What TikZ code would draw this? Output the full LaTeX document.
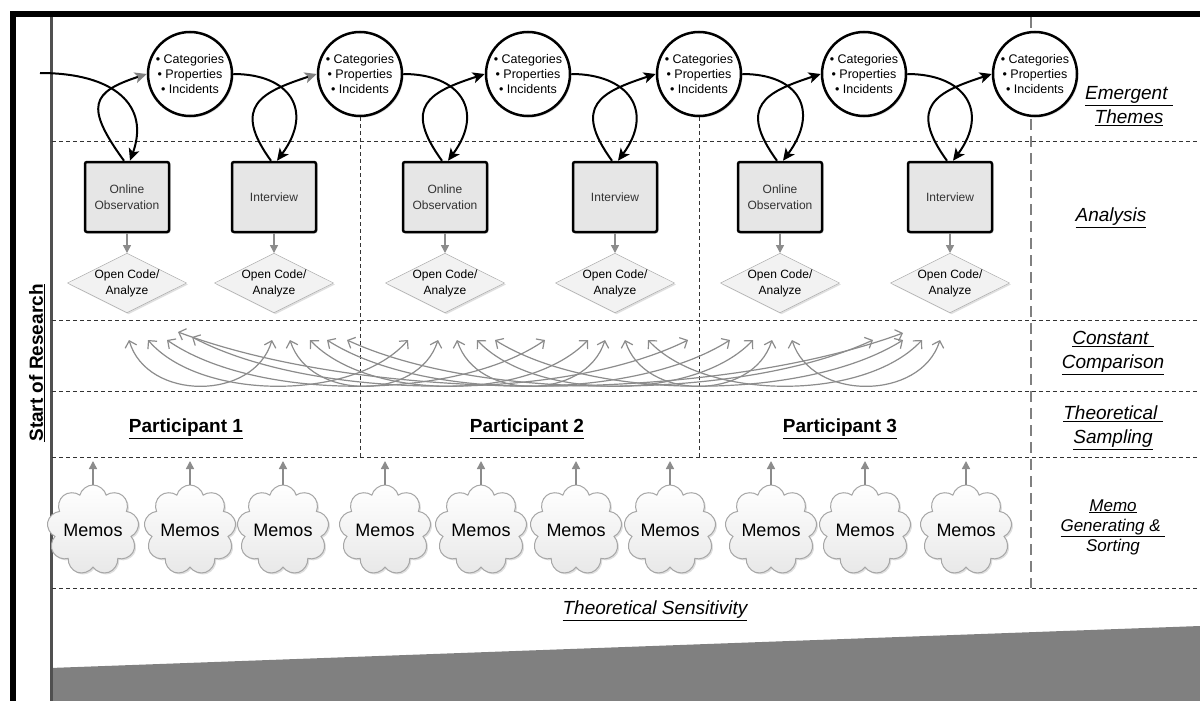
\documentclass[tikz,border=0pt]{standalone}
\usepackage{fontspec}
\setmainfont{Liberation Sans}
\usetikzlibrary{positioning,arrows.meta,shapes.geometric,shapes.symbols,shadows}

\definecolor{framegray}{HTML}{505050}
\definecolor{boxfill}{HTML}{E6E6E6}
\definecolor{arcgray}{HTML}{8C8C8C}
\definecolor{bandgray}{HTML}{808080}

\tikzset{
  softshadow/.style={drop shadow={shadow xshift=1.5pt,shadow yshift=-1.5pt,opacity=.25}},
  theme/.style={circle,draw,line width=2.5pt,fill=white,minimum size=84pt,inner sep=0pt,
    align=center,font=\fontsize{12.5}{15}\selectfont,softshadow},
  datasrc/.style={rectangle,draw,line width=2.5pt,fill=boxfill,rounded corners=2pt,
    minimum width=84pt,minimum height=70pt,align=center,text=black!80,
    font=\fontsize{12}{16}\selectfont,softshadow},
  opencode/.style={diamond,draw=gray!70,fill=gray!10,aspect=2,inner sep=0pt,
    minimum width=119pt,minimum height=59pt,align=center,
    font=\fontsize{12}{16}\selectfont,softshadow},
  memo/.style={cloud,cloud puffs=9,cloud ignores aspect,draw=gray!70,line width=1pt,
    top color=white,bottom color=gray!18,minimum width=92pt,minimum height=90pt,
    inner sep=0pt,font=\fontsize{18}{20}\selectfont,softshadow},
  phase/.style={align=center,font=\itshape\fontsize{19}{24}\selectfont},
  partlabel/.style={font=\bfseries\fontsize{19}{22}\selectfont},
  band/.style={line width=1pt,black!80,dash pattern=on 4pt off 3pt},
  loopin/.style={line width=2pt,-{Stealth[length=12pt,width=11pt,inset=3pt]}},
  loopout/.style={line width=2pt,-{Stealth[length=12pt,width=11pt,inset=3pt,color=#1]}},
  feed/.style={arcgray,line width=1.5pt,-{Triangle[length=8pt,width=8pt]}},
  compare/.style={arcgray,line width=1.2pt,
    {Straight Barb[length=6pt,width=12pt]}-{Straight Barb[length=6pt,width=12pt]}}
}

\begin{document}
\begin{tikzpicture}[x=1pt,y=-1pt]
  \useasboundingbox (0,0) rectangle (1200,701);
  \fill[white] (0,0) rectangle (1200,701);

  % lower grey band
  \fill[bandgray] (50,668) -- (1200,626) -- (1200,701) -- (50,701) -- cycle;

  % frame
  \draw[line width=6pt,miter limit=10] (13,701) -- (13,14) -- (1200,14);
  \draw[framegray,line width=3pt] (51,17) -- (51,701);

  % rows
  \foreach \y in {141,320,391,457,588}
    \draw[band] (52,\y) -- (1200,\y);
  \draw[gray,line width=1.2pt,dash pattern=on 11pt off 6pt] (1031,17) -- (1031,588);

  \coordinate (entry) at (40,73);
  \coordinate (samptop) at (0,461);
  \coordinate (sampbot) at (0,457);

  % emergent themes
  \foreach \n/\x in {1/190,2/360,3/528,4/699,5/864,6/1035}
    \node[theme] (c\n) at (\x,74) {• Categories\\• Properties\\• Incidents};

  % data sources and open coding
  \foreach \n/\x/\txt in {1/127/Online\\Observation,2/274/Interview,3/445/Online\\Observation,
                          4/615/Interview,5/780/Online\\Observation,6/950/Interview}{
    \node[datasrc] (b\n) at (\x,197) {\txt};
    \node[opencode] (d\n) at (\x,283) {Open Code/\\Analyze};
    \draw[feed] (b\n) -- (d\n);
  }

  \draw[band] (c2.south) -- (c2.south |- sampbot);
  \draw[band] (c4.south) -- (c4.south |- sampbot);

  % theme loops
  \draw[loopin] (entry) .. controls +(75,0) and +(20,-55) .. ([xshift=3pt]b1.north);
  \foreach \n/\src in {2/c1,3/c2,4/c3,5/c4,6/c5}
    \draw[loopin] (\src.east) .. controls +(57,0) and +(37,-50) .. ([xshift=3pt]b\n.north);
  \foreach \n/\tip in {1/gray,2/gray,3/black,4/black,5/black,6/black}
    \draw[loopout=\tip] ([xshift=-3pt]b\n.north) .. controls +(-40,-55) and +(-55,18) .. (c\n.west);

  % constant comparison
  \foreach \xa/\ya/\xb/\yb in {129/340/272/340,148/340/408/340,167/340/545/340,
      192/337/688/340,178/332/903/333,290/340/438/340,310/340/588/340,
      327/340/730/340,347/340/873/340,457/340/605/340,477/340/753/340,
      495/340/903/340,625/340/772/340,648/340/922/340,792/340/940/340}{
    \pgfmathsetmacro\ctl{max(0.3*(\xb-\xa)-25,10)}
    \pgfmathsetmacro\dep{(386-\ya)*4/3}
    \pgfmathsetmacro\deq{(386-\yb)*4/3}
    \draw[compare] (\xa,\ya) .. controls +(\ctl,\dep) and +(-\ctl,\deq) .. (\xb,\yb);
  }

  % participants
  \node[partlabel] (p1) at (186,429) {\underline{Participant 1}};
  \node[partlabel] (p2) at (527,429) {\underline{Participant 2}};
  \node[partlabel] (p3) at (840,429) {\underline{Participant 3}};

  % memos
  \foreach \n/\x in {1/93,2/190,3/283,4/385,5/481,6/576,7/670,8/771,9/865,10/966}{
    \node[memo] (m\n) at (\x,530) {Memos};
    \draw[feed] (m\n.north) -- (m\n.north |- samptop);
  }

  % phase labels
  \node[phase] (lemerg) at (1129,106) {\underline{Emergent }\\\underline{Themes}};
  \node[phase] (lanal) at (1111,218) {\underline{Analysis}};
  \node[phase] (lconst) at (1113,353) {\underline{Constant }\\\underline{Comparison}};
  \node[phase] (lsamp) at (1113,428) {\underline{Theoretical }\\\underline{Sampling}};
  \node[phase,font=\itshape\fontsize{17}{20}\selectfont] (lmemo) at (1113,527)
    {\underline{Memo}\\\underline{Generating \& }\\Sorting};
  \node[phase] (lsens) at (655,611) {\underline{Theoretical Sensitivity}};

  \node[rotate=90,font=\bfseries\fontsize{19}{22}\selectfont] (start) at (37,363)
    {\underline{Start of Research}};
\end{tikzpicture}
\end{document}
